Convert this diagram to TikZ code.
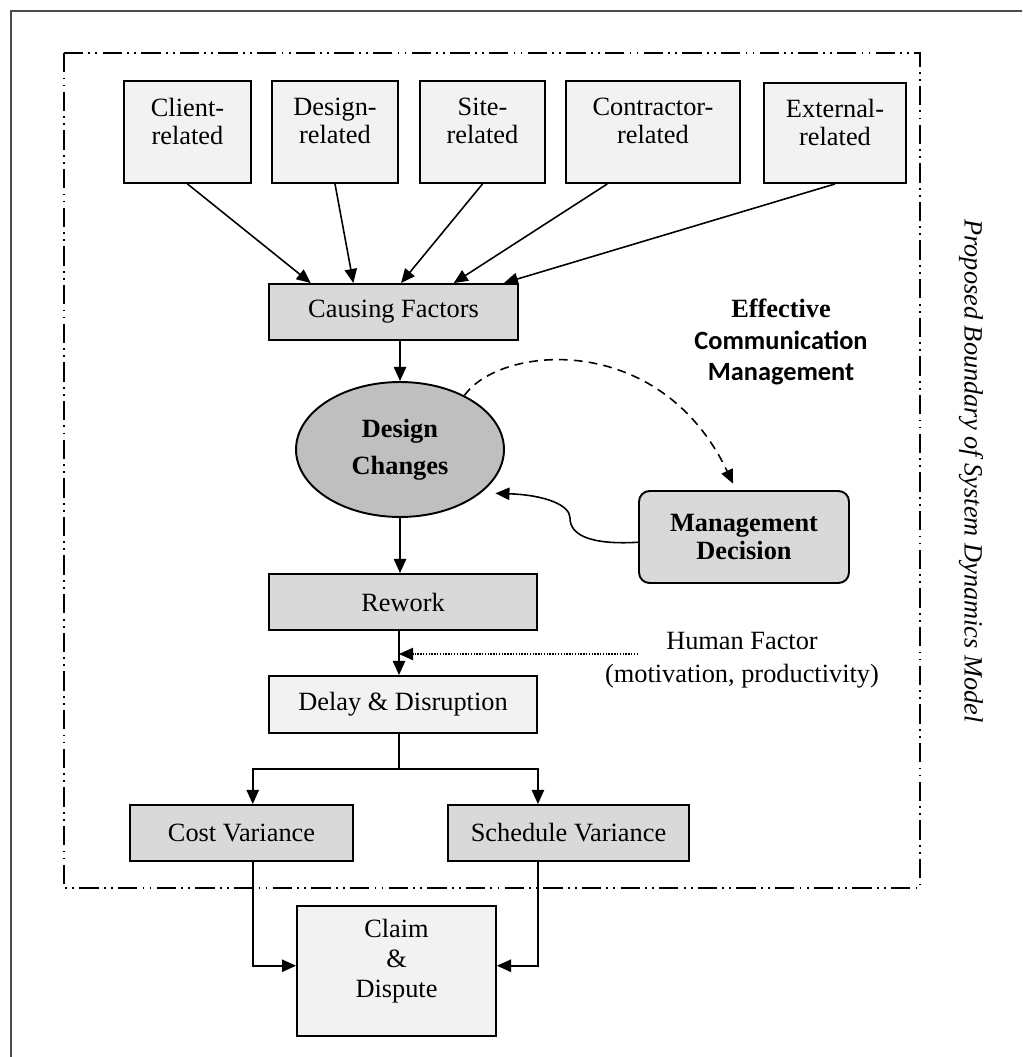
\documentclass[tikz,border=0pt]{standalone}
\usepackage{fontspec}
\setmainfont{Liberation Serif}
\newfontfamily\calib{Carlito}
\usepackage{tikz}
\usetikzlibrary{arrows.meta, positioning, calc, shapes.geometric}
\definecolor{boxlight}{HTML}{F2F2F2}
\definecolor{boxmid}{HTML}{D9D9D9}
\definecolor{boxdark}{HTML}{BFBFBF}
\definecolor{framegray}{HTML}{4A4A4A}

\begin{document}
\begin{tikzpicture}[x=0.02cm, y=-0.02cm,
    font=\fontsize{15}{16}\selectfont,
    box/.style={draw, line width=1.1pt, align=center, inner sep=0pt},
    light/.style={box, fill=boxlight},
    mid/.style={box, fill=boxmid},
    topbox/.style={light, minimum height=2.04cm, text depth=12.5pt},
    flatbox/.style={minimum height=1.12cm},
    arr/.style={-{Triangle[length=8pt,width=7pt]}, line width=0.9pt}]
    \useasboundingbox (0,0) rectangle (1022,1057);

    % frame and boundary of the model
    \draw[framegray, line width=1.3pt] (1022,11) -- (11,11) -- (11,1057);
    \draw[line width=0.9pt, dash pattern=on 11pt off 3pt on 1pt off 3pt on 1pt off 3pt] (64,53) rectangle (920,888);
    \node[rotate=-90, font=\fontsize{15}{18}\selectfont\itshape] (bound) at (971,471) {Proposed Boundary of System Dynamics Model};

    \node[topbox, minimum width=2.54cm] (client) at (187.5,132) {Client-\\related};
    \node[topbox, minimum width=2.52cm] (design) at (335,132) {Design-\\related};
    \node[topbox, minimum width=2.50cm] (site) at (482.5,132) {Site-\\related};
    \node[topbox, minimum width=3.48cm] (contractor) at (653,132) {Contractor-\\related};
    \node[topbox, minimum width=2.84cm, minimum height=2cm] (external) at (835,133) {External-\\related};

    \node[mid, flatbox, minimum width=4.98cm] (causing) at (393.5,312) {Causing Factors};
    \node[ellipse, draw, line width=1.1pt, fill=boxdark, minimum width=4.16cm, minimum height=2.7cm, inner sep=0pt, align=center, font=\fontsize{15}{21}\selectfont\bfseries] (changes) at (400,449.5) {Design\\Changes};
    \node[mid, rounded corners=6pt, minimum width=4.2cm, minimum height=1.84cm, font=\fontsize{15}{16.5}\selectfont\bfseries] (mgmt) at (744,537) {Management\\Decision};
    \node[align=center, font=\fontsize{15}{18}\selectfont] (ecm) at (781,342) {\textbf{Effective}\\{\calib\bfseries Communication}\\{\calib\bfseries Management}};

    \node[mid, flatbox, minimum width=5.36cm] (rework) at (403,602) {Rework};
    \node[align=center, font=\fontsize{15}{19}\selectfont] (hf) at (742,660) {Human Factor\\(motivation, productivity)};
    \node[light, minimum width=5.36cm, minimum height=1.14cm] (delay) at (403,704.5) {Delay \& Disruption};
    \node[mid, flatbox, minimum width=4.46cm] (cost) at (241.5,833) {Cost Variance};
    \node[mid, flatbox, minimum width=4.82cm] (schedule) at (568.5,833) {Schedule Variance};
    \node[light, minimum width=3.98cm, minimum height=2.6cm, text depth=14.6pt, font=\fontsize{15}{17}\selectfont] (claim) at (396.5,971) {Claim\\\&\\Dispute};

    \coordinate (hfin) at (638,654);
    \coordinate (split) at (399,769);

    % causes
    \draw[arr] (client.south) -- ($(causing.north west)!0.17!(causing.north east)$);
    \draw[arr] (design.south) -- ($(causing.north west)!0.34!(causing.north east)$);
    \draw[arr] (site.south) -- ($(causing.north west)!0.53!(causing.north east)$);
    \draw[arr] ($(contractor.south west)!0.24!(contractor.south east)$) -- ($(causing.north west)!0.74!(causing.north east)$);
    \draw[arr] (external.south) -- ($(causing.north west)!0.94!(causing.north east)$);

    \draw[arr] (causing.south -| changes.north) -- (changes.north);
    \draw[arr, dash pattern=on 5pt off 3.5pt, shorten >=4pt] (changes.40) .. controls (500,345) and (660,330) .. ([xshift=-4.5pt]mgmt.north);
    \draw[arr] ([yshift=-3pt]mgmt.west) .. controls (590,545) and (570,535) .. (570,518) .. controls (570,505) and (545,495) .. ([shift={(10,4)}]changes.-25);
    \draw[arr] (changes.south) -- (changes.south |- rework.north);
    \draw[arr] (rework.south -| split) -- (delay.north -| split);
    \draw[arr, line width=0.7pt, dash pattern=on 0.8pt off 0.8pt] (hfin) -- (hfin -| split);

    % effects
    \draw[line width=0.9pt] (delay.south -| split) -- (split);
    \draw[arr] (split) -| ($(cost.north west)!0.55!(cost.north east)$);
    \draw[arr] (split) -| (delay.east |- schedule.north);
    \draw[arr] ($(cost.south west)!0.55!(cost.south east)$) |- ([yshift=3pt]claim.west);
    \draw[arr] (delay.east |- schedule.south) |- ([yshift=3pt]claim.east);

\end{tikzpicture}
\end{document}
